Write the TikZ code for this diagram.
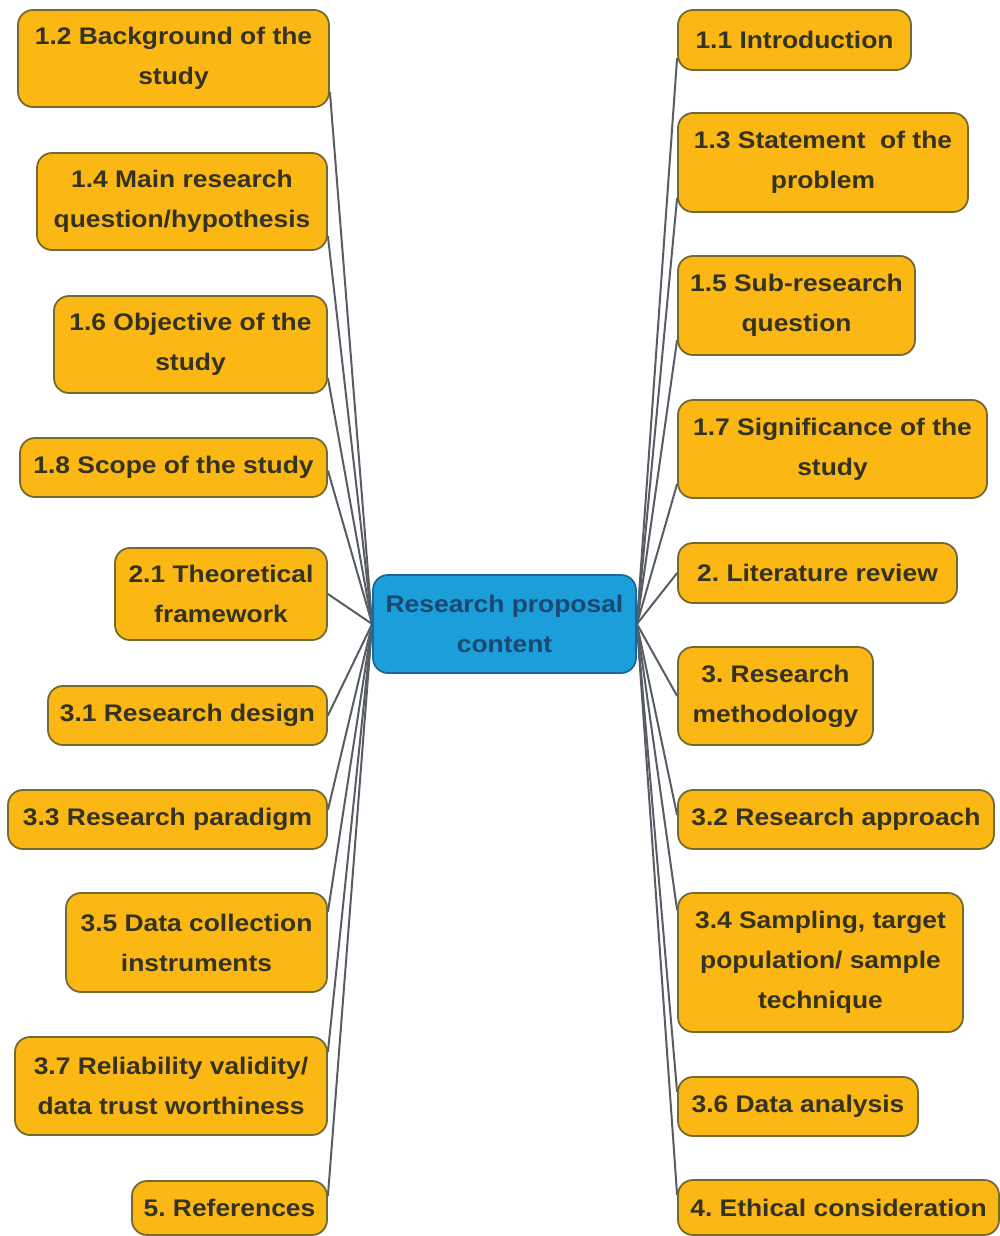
\documentclass[tikz,border=0pt]{standalone}
\usepackage{fontspec}
\newfontfamily\boxfont{Liberation Sans}[FakeStretch=1.1]
\usetikzlibrary{backgrounds}
\frenchspacing

\definecolor{boxfill}{RGB}{251,184,20}
\definecolor{boxline}{RGB}{115,106,50}
\definecolor{boxtext}{RGB}{52,50,32}
\definecolor{hubfill}{RGB}{27,158,218}
\definecolor{hubline}{RGB}{26,104,150}
\definecolor{hubtext}{RGB}{26,72,112}
\definecolor{linkcol}{RGB}{88,92,100}

\tikzset{
  topic/.style={draw=boxline, line width=1.8pt, fill=boxfill, rounded corners=15pt,
    inner sep=0pt, align=center, text=boxtext,
    font=\boxfont\bfseries\fontsize{24}{40}\selectfont},
  hubbox/.style={topic, draw=hubline, fill=hubfill, text=hubtext},
  link/.style={draw=linkcol, line width=2pt},
}

\begin{document}
\begin{tikzpicture}[x=1pt, y=-1pt]
\useasboundingbox (0,0) rectangle (1000,1236);

% central topic
\node[hubbox, minimum width=263pt, minimum height=98pt] (hub) at (504.5,624) {Research proposal\\content};

% left column
\node[topic, minimum width=311pt, minimum height=97pt] (b12) at (173.5,58.5) {1.2 Background of the\\study};
\node[topic, minimum width=290pt, minimum height=97pt] (b14) at (182,201.5) {1.4 Main research\\question/hypothesis};
\node[topic, minimum width=273pt, minimum height=97pt] (b16) at (190.5,344.5) {1.6 Objective of the\\study};
\node[topic, minimum width=307pt, minimum height=59pt] (b18) at (173.5,467.5) {1.8 Scope of the study};
\node[topic, minimum width=212pt, minimum height=92pt] (b21) at (221,594) {2.1 Theoretical\\framework};
\node[topic, minimum width=279pt, minimum height=59pt] (b31) at (187.5,715.5) {3.1 Research design};
\node[topic, minimum width=319pt, minimum height=59pt] (b33) at (167.5,819.5) {3.3 Research paradigm};
\node[topic, minimum width=261pt, minimum height=99pt] (b35) at (196.5,942.5) {3.5 Data collection\\instruments};
\node[topic, minimum width=312pt, minimum height=98pt] (b37) at (171,1086) {3.7 Reliability validity/\\data trust worthiness};
\node[topic, minimum width=195pt, minimum height=54pt] (b5) at (229.5,1208) {5. References};

% right column
\node[topic, minimum width=233pt, minimum height=60pt] (b11) at (794.5,40) {1.1 Introduction};
\node[topic, minimum width=290pt, minimum height=99pt] (b13) at (823,162.5) {1.3 Statement\ \ of the\\problem};
\node[topic, minimum width=237pt, minimum height=99pt] (b15) at (796.5,305.5) {1.5 Sub-research\\question};
\node[topic, minimum width=309pt, minimum height=98pt] (b17) at (832.5,449) {1.7 Significance of the\\study};
\node[topic, minimum width=279pt, minimum height=60pt] (b2) at (817.5,573) {2. Literature review};
\node[topic, minimum width=195pt, minimum height=98pt] (b3) at (775.5,696) {3. Research\\methodology};
\node[topic, minimum width=316pt, minimum height=59pt] (b32) at (836,819.5) {3.2 Research approach};
\node[topic, minimum width=285pt, minimum height=139pt] (b34) at (820.5,962.5) {3.4 Sampling, target\\population/ sample\\technique};
\node[topic, minimum width=240pt, minimum height=59pt] (b36) at (798,1106.5) {3.6 Data analysis};
\node[topic, minimum width=321pt, minimum height=55pt] (b4) at (838.5,1207.5) {4. Ethical consideration};

% connectors, drawn beneath the boxes
\begin{scope}[on background layer]
  \fill[white] (0,0) rectangle (1000,1236);
  \draw[link] (hub.west) -- ([yshift=-33.5pt]b12.east);
  \draw[link] (hub.west) -- ([yshift=-34.5pt]b14.east);
  \draw[link] (hub.west) -- ([yshift=-33.5pt]b16.east);
  \draw[link] (hub.west) -- ([yshift=-3pt]b18.east);
  \draw[link] (hub.west) -- (b21.east);
  \draw[link] (hub.west) -- (b31.east);
  \draw[link] (hub.west) -- ([yshift=9.5pt]b33.east);
  \draw[link] (hub.west) -- ([yshift=30.5pt]b35.east);
  \draw[link] (hub.west) -- ([yshift=34pt]b37.east);
  \draw[link] (hub.west) -- ([yshift=12pt]b5.east);
  \draw[link] (hub.east) -- ([yshift=-18pt]b11.west);
  \draw[link] (hub.east) -- ([yshift=-35.5pt]b13.west);
  \draw[link] (hub.east) -- ([yshift=-34.5pt]b15.west);
  \draw[link] (hub.east) -- ([yshift=-35pt]b17.west);
  \draw[link] (hub.east) -- (b2.west);
  \draw[link] (hub.east) -- (b3.west);
  \draw[link] (hub.east) -- ([yshift=4.5pt]b32.west);
  \draw[link] (hub.east) -- ([yshift=52.5pt]b34.west);
  \draw[link] (hub.east) -- ([yshift=14.5pt]b36.west);
  \draw[link] (hub.east) -- ([yshift=12.5pt]b4.west);
\end{scope}
\end{tikzpicture}
\end{document}
